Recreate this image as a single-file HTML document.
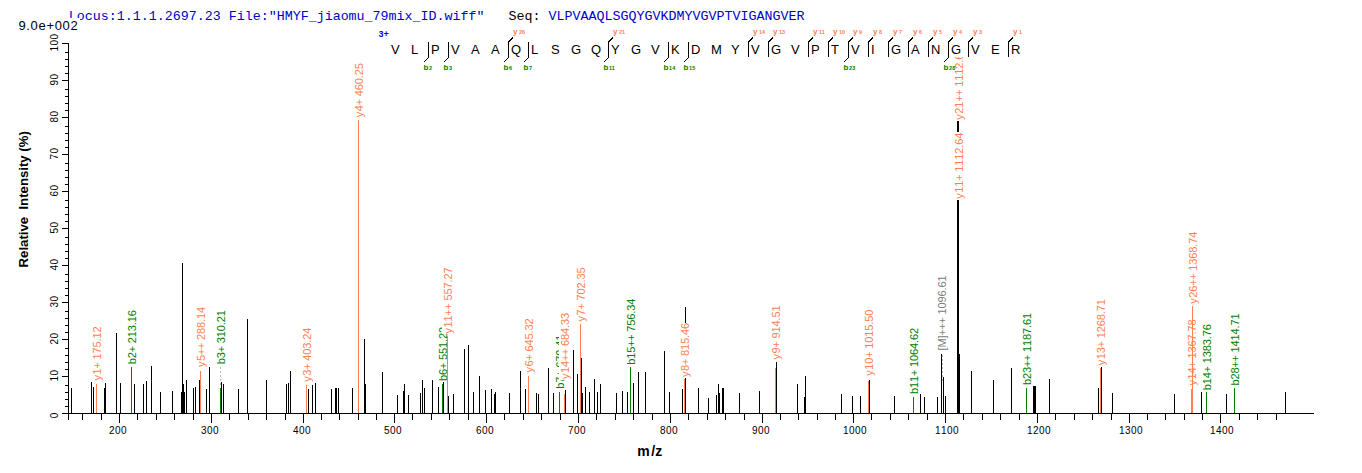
<!DOCTYPE html>
<html><head><meta charset="utf-8"><title>spectrum</title>
<style>
html,body{margin:0;padding:0;background:#fff;}
body{width:1362px;height:473px;overflow:hidden;}
svg{display:block;}
text{font-family:"Liberation Sans",sans-serif;}
svg g text{font-size:11px;}
.ytl{font-size:10px;fill:#000;}
.xtl{font-size:10px;fill:#000;}
.ttl{font-size:13.2px;font-weight:bold;fill:#000;}
.ttl2{font-size:14px;font-weight:bold;fill:#000;}
.seq{font-size:13px;fill:#000;}
.chg{font-size:9px;font-weight:bold;fill:#0000ff;}
.ion{font-size:8px;font-weight:bold;}
.sub{font-size:5.5px;}
.mono{font-family:"Liberation Mono",monospace;font-size:13.33px;}
.maxi{font-size:13px;letter-spacing:0.68px;fill:#000;}
</style></head>
<body><svg width="1362" height="473" viewBox="0 0 1362 473" shape-rendering="crispEdges">
<rect width="1362" height="473" fill="#fff"/>
<line x1="71.5" y1="388" x2="71.5" y2="413" stroke="#000" stroke-width="1"/>
<line x1="91.5" y1="382" x2="91.5" y2="413" stroke="#000" stroke-width="1"/>
<line x1="93.5" y1="387" x2="93.5" y2="413" stroke="#000" stroke-width="1"/>
<line x1="104.5" y1="388" x2="104.5" y2="413" stroke="#000" stroke-width="1"/>
<line x1="105.5" y1="383" x2="105.5" y2="413" stroke="#000" stroke-width="1"/>
<line x1="116.5" y1="333" x2="116.5" y2="413" stroke="#000" stroke-width="1"/>
<line x1="120.5" y1="383" x2="120.5" y2="413" stroke="#000" stroke-width="1"/>
<line x1="134.5" y1="384" x2="134.5" y2="413" stroke="#000" stroke-width="1"/>
<line x1="143.5" y1="384" x2="143.5" y2="413" stroke="#000" stroke-width="1"/>
<line x1="146.5" y1="381" x2="146.5" y2="413" stroke="#000" stroke-width="1"/>
<line x1="151.5" y1="366" x2="151.5" y2="413" stroke="#000" stroke-width="1"/>
<line x1="160.5" y1="392" x2="160.5" y2="413" stroke="#000" stroke-width="1"/>
<line x1="172.5" y1="391" x2="172.5" y2="413" stroke="#000" stroke-width="1"/>
<line x1="181.5" y1="392" x2="181.5" y2="413" stroke="#000" stroke-width="1"/>
<line x1="182.5" y1="263" x2="182.5" y2="413" stroke="#000" stroke-width="1"/>
<line x1="183.5" y1="384" x2="183.5" y2="413" stroke="#000" stroke-width="1"/>
<line x1="184.5" y1="392" x2="184.5" y2="413" stroke="#000" stroke-width="1"/>
<line x1="186.5" y1="380" x2="186.5" y2="413" stroke="#000" stroke-width="1"/>
<line x1="193.5" y1="388" x2="193.5" y2="413" stroke="#000" stroke-width="1"/>
<line x1="195.5" y1="387" x2="195.5" y2="413" stroke="#000" stroke-width="1"/>
<line x1="199.5" y1="380" x2="199.5" y2="413" stroke="#000" stroke-width="1"/>
<line x1="206.5" y1="389" x2="206.5" y2="413" stroke="#000" stroke-width="1"/>
<line x1="209.5" y1="367" x2="209.5" y2="413" stroke="#000" stroke-width="1"/>
<line x1="221.5" y1="382" x2="221.5" y2="413" stroke="#000" stroke-width="1"/>
<line x1="223.5" y1="384" x2="223.5" y2="413" stroke="#000" stroke-width="1"/>
<line x1="238.5" y1="389" x2="238.5" y2="413" stroke="#000" stroke-width="1"/>
<line x1="247.5" y1="319" x2="247.5" y2="413" stroke="#000" stroke-width="1"/>
<line x1="266.5" y1="380" x2="266.5" y2="413" stroke="#000" stroke-width="1"/>
<line x1="286.5" y1="384" x2="286.5" y2="413" stroke="#000" stroke-width="1"/>
<line x1="288.5" y1="383" x2="288.5" y2="413" stroke="#000" stroke-width="1"/>
<line x1="290.5" y1="371" x2="290.5" y2="413" stroke="#000" stroke-width="1"/>
<line x1="308.5" y1="389" x2="308.5" y2="413" stroke="#000" stroke-width="1"/>
<line x1="312.5" y1="385" x2="312.5" y2="413" stroke="#000" stroke-width="1"/>
<line x1="315.5" y1="383" x2="315.5" y2="413" stroke="#000" stroke-width="1"/>
<line x1="331.5" y1="389" x2="331.5" y2="413" stroke="#000" stroke-width="1"/>
<line x1="335.5" y1="388" x2="335.5" y2="413" stroke="#000" stroke-width="1"/>
<line x1="336.5" y1="388" x2="336.5" y2="413" stroke="#000" stroke-width="1"/>
<line x1="338.5" y1="388" x2="338.5" y2="413" stroke="#000" stroke-width="1"/>
<line x1="352.5" y1="388" x2="352.5" y2="413" stroke="#000" stroke-width="1"/>
<line x1="364.5" y1="339" x2="364.5" y2="413" stroke="#000" stroke-width="1"/>
<line x1="365.5" y1="384" x2="365.5" y2="413" stroke="#000" stroke-width="1"/>
<line x1="382.5" y1="372" x2="382.5" y2="413" stroke="#000" stroke-width="1"/>
<line x1="397.5" y1="395" x2="397.5" y2="413" stroke="#000" stroke-width="1"/>
<line x1="403.5" y1="391" x2="403.5" y2="413" stroke="#000" stroke-width="1"/>
<line x1="404.5" y1="384" x2="404.5" y2="413" stroke="#000" stroke-width="1"/>
<line x1="408.5" y1="395" x2="408.5" y2="413" stroke="#000" stroke-width="1"/>
<line x1="420.5" y1="393" x2="420.5" y2="413" stroke="#000" stroke-width="1"/>
<line x1="422.5" y1="380" x2="422.5" y2="413" stroke="#000" stroke-width="1"/>
<line x1="424.5" y1="388" x2="424.5" y2="413" stroke="#000" stroke-width="1"/>
<line x1="432.5" y1="380" x2="432.5" y2="413" stroke="#000" stroke-width="1"/>
<line x1="438.5" y1="387" x2="438.5" y2="413" stroke="#000" stroke-width="1"/>
<line x1="443.5" y1="382" x2="443.5" y2="413" stroke="#000" stroke-width="1"/>
<line x1="448.5" y1="396" x2="448.5" y2="413" stroke="#000" stroke-width="1"/>
<line x1="453.5" y1="394" x2="453.5" y2="413" stroke="#000" stroke-width="1"/>
<line x1="464.5" y1="349" x2="464.5" y2="413" stroke="#000" stroke-width="1"/>
<line x1="468.5" y1="345" x2="468.5" y2="413" stroke="#000" stroke-width="1"/>
<line x1="473.5" y1="392" x2="473.5" y2="413" stroke="#000" stroke-width="1"/>
<line x1="479.5" y1="376" x2="479.5" y2="413" stroke="#000" stroke-width="1"/>
<line x1="485.5" y1="390" x2="485.5" y2="413" stroke="#000" stroke-width="1"/>
<line x1="491.5" y1="389" x2="491.5" y2="413" stroke="#000" stroke-width="1"/>
<line x1="494.5" y1="394" x2="494.5" y2="413" stroke="#000" stroke-width="1"/>
<line x1="495.5" y1="392" x2="495.5" y2="413" stroke="#000" stroke-width="1"/>
<line x1="509.5" y1="393" x2="509.5" y2="413" stroke="#000" stroke-width="1"/>
<line x1="520.5" y1="371" x2="520.5" y2="413" stroke="#000" stroke-width="1"/>
<line x1="525.5" y1="389" x2="525.5" y2="413" stroke="#000" stroke-width="1"/>
<line x1="536.5" y1="393" x2="536.5" y2="413" stroke="#000" stroke-width="1"/>
<line x1="538.5" y1="394" x2="538.5" y2="413" stroke="#000" stroke-width="1"/>
<line x1="548.5" y1="368" x2="548.5" y2="413" stroke="#000" stroke-width="1"/>
<line x1="553.5" y1="393" x2="553.5" y2="413" stroke="#000" stroke-width="1"/>
<line x1="565.5" y1="390" x2="565.5" y2="413" stroke="#000" stroke-width="1"/>
<line x1="573.5" y1="350" x2="573.5" y2="413" stroke="#000" stroke-width="1"/>
<line x1="577.5" y1="374" x2="577.5" y2="413" stroke="#000" stroke-width="1"/>
<line x1="581.5" y1="358" x2="581.5" y2="413" stroke="#000" stroke-width="1"/>
<line x1="582.5" y1="393" x2="582.5" y2="413" stroke="#000" stroke-width="1"/>
<line x1="585.5" y1="387" x2="585.5" y2="413" stroke="#000" stroke-width="1"/>
<line x1="589.5" y1="392" x2="589.5" y2="413" stroke="#000" stroke-width="1"/>
<line x1="594.5" y1="379" x2="594.5" y2="413" stroke="#000" stroke-width="1"/>
<line x1="597.5" y1="392" x2="597.5" y2="413" stroke="#000" stroke-width="1"/>
<line x1="600.5" y1="384" x2="600.5" y2="413" stroke="#000" stroke-width="1"/>
<line x1="616.5" y1="393" x2="616.5" y2="413" stroke="#000" stroke-width="1"/>
<line x1="622.5" y1="391" x2="622.5" y2="413" stroke="#000" stroke-width="1"/>
<line x1="627.5" y1="392" x2="627.5" y2="413" stroke="#000" stroke-width="1"/>
<line x1="633.5" y1="383" x2="633.5" y2="413" stroke="#000" stroke-width="1"/>
<line x1="638.5" y1="372" x2="638.5" y2="413" stroke="#000" stroke-width="1"/>
<line x1="645.5" y1="372" x2="645.5" y2="413" stroke="#000" stroke-width="1"/>
<line x1="664.5" y1="351" x2="664.5" y2="413" stroke="#000" stroke-width="1"/>
<line x1="669.5" y1="392" x2="669.5" y2="413" stroke="#000" stroke-width="1"/>
<line x1="682.5" y1="389" x2="682.5" y2="413" stroke="#000" stroke-width="1"/>
<line x1="685.5" y1="307" x2="685.5" y2="413" stroke="#000" stroke-width="1"/>
<line x1="698.5" y1="388" x2="698.5" y2="413" stroke="#000" stroke-width="1"/>
<line x1="708.5" y1="398" x2="708.5" y2="413" stroke="#000" stroke-width="1"/>
<line x1="716.5" y1="395" x2="716.5" y2="413" stroke="#000" stroke-width="1"/>
<line x1="718.5" y1="384" x2="718.5" y2="413" stroke="#000" stroke-width="1"/>
<line x1="719.5" y1="393" x2="719.5" y2="413" stroke="#000" stroke-width="1"/>
<line x1="722.5" y1="388" x2="722.5" y2="413" stroke="#000" stroke-width="1"/>
<line x1="723.5" y1="388" x2="723.5" y2="413" stroke="#000" stroke-width="1"/>
<line x1="739.5" y1="393" x2="739.5" y2="413" stroke="#000" stroke-width="1"/>
<line x1="759.5" y1="391" x2="759.5" y2="413" stroke="#000" stroke-width="1"/>
<line x1="776.5" y1="362" x2="776.5" y2="413" stroke="#000" stroke-width="1"/>
<line x1="797.5" y1="384" x2="797.5" y2="413" stroke="#000" stroke-width="1"/>
<line x1="804.5" y1="397" x2="804.5" y2="413" stroke="#000" stroke-width="1"/>
<line x1="805.5" y1="376" x2="805.5" y2="413" stroke="#000" stroke-width="1"/>
<line x1="841.5" y1="394" x2="841.5" y2="413" stroke="#000" stroke-width="1"/>
<line x1="852.5" y1="396" x2="852.5" y2="413" stroke="#000" stroke-width="1"/>
<line x1="860.5" y1="396" x2="860.5" y2="413" stroke="#000" stroke-width="1"/>
<line x1="869.5" y1="380" x2="869.5" y2="413" stroke="#000" stroke-width="1"/>
<line x1="894.5" y1="396" x2="894.5" y2="413" stroke="#000" stroke-width="1"/>
<line x1="920.5" y1="394" x2="920.5" y2="413" stroke="#000" stroke-width="1"/>
<line x1="924.5" y1="397" x2="924.5" y2="413" stroke="#000" stroke-width="1"/>
<line x1="937.5" y1="397" x2="937.5" y2="413" stroke="#000" stroke-width="1"/>
<line x1="941.5" y1="354" x2="941.5" y2="413" stroke="#000" stroke-width="1"/>
<line x1="943.5" y1="377" x2="943.5" y2="413" stroke="#000" stroke-width="1"/>
<line x1="945.5" y1="396" x2="945.5" y2="413" stroke="#000" stroke-width="1"/>
<line x1="957.5" y1="60" x2="957.5" y2="413" stroke="#000" stroke-width="1"/>
<line x1="958.5" y1="60" x2="958.5" y2="413" stroke="#000" stroke-width="1"/>
<line x1="959.5" y1="354" x2="959.5" y2="413" stroke="#000" stroke-width="1"/>
<line x1="971.5" y1="371" x2="971.5" y2="413" stroke="#000" stroke-width="1"/>
<line x1="993.5" y1="380" x2="993.5" y2="413" stroke="#000" stroke-width="1"/>
<line x1="1011.5" y1="368" x2="1011.5" y2="413" stroke="#000" stroke-width="1"/>
<line x1="1033.5" y1="386" x2="1033.5" y2="413" stroke="#000" stroke-width="1"/>
<line x1="1034.5" y1="386" x2="1034.5" y2="413" stroke="#000" stroke-width="1"/>
<line x1="1035.5" y1="386" x2="1035.5" y2="413" stroke="#000" stroke-width="1"/>
<line x1="1049.5" y1="379" x2="1049.5" y2="413" stroke="#000" stroke-width="1"/>
<line x1="1098.5" y1="388" x2="1098.5" y2="413" stroke="#000" stroke-width="1"/>
<line x1="1101.5" y1="367" x2="1101.5" y2="413" stroke="#000" stroke-width="1"/>
<line x1="1112.5" y1="393" x2="1112.5" y2="413" stroke="#000" stroke-width="1"/>
<line x1="1174.5" y1="394" x2="1174.5" y2="413" stroke="#000" stroke-width="1"/>
<line x1="1201.5" y1="392" x2="1201.5" y2="413" stroke="#000" stroke-width="1"/>
<line x1="1226.5" y1="394" x2="1226.5" y2="413" stroke="#000" stroke-width="1"/>
<line x1="1285.5" y1="392" x2="1285.5" y2="413" stroke="#000" stroke-width="1"/>
<g transform="translate(100.7,380.5) rotate(-90)"><rect x="-1" y="-10" width="55.5" height="12.3" fill="#fff"/><text x="0 6 12 18 21 27 33 39 42 48" y="0" fill="#ff7f50" xml:space="preserve">y1+ 175.12</text></g>
<g transform="translate(135.7,364.3) rotate(-90)"><rect x="-1" y="-10" width="55.5" height="12.3" fill="#fff"/><text x="0 6 12 18 21 27 33 39 42 48" y="0" fill="#008000" xml:space="preserve">b2+ 213.16</text></g>
<g transform="translate(204.7,367.0) rotate(-90)"><rect x="-1" y="-10" width="61.5" height="12.3" fill="#fff"/><text x="0 6 12 18 24 27 33 39 45 48 54" y="0" fill="#ff7f50" xml:space="preserve">y5++ 288.14</text></g>
<g transform="translate(224.7,364.3) rotate(-90)"><rect x="-1" y="-10" width="55.5" height="12.3" fill="#fff"/><text x="0 6 12 18 21 27 33 39 42 48" y="0" fill="#008000" xml:space="preserve">b3+ 310.21</text></g>
<g transform="translate(310.7,381.7) rotate(-90)"><rect x="-1" y="-10" width="55.5" height="12.3" fill="#fff"/><text x="0 6 12 18 21 27 33 39 42 48" y="0" fill="#ff7f50" xml:space="preserve">y3+ 403.24</text></g>
<g transform="translate(362.7,117.3) rotate(-90)"><rect x="-1" y="-10" width="55.5" height="12.3" fill="#fff"/><text x="0 6 12 18 21 27 33 39 42 48" y="0" fill="#ff7f50" xml:space="preserve">y4+ 460.25</text></g>
<g transform="translate(446.7,381.1) rotate(-90)"><rect x="-1" y="-10" width="55.5" height="12.3" fill="#fff"/><text x="0 6 12 18 21 27 33 39 42 48" y="0" fill="#008000" xml:space="preserve">b6+ 551.22</text></g>
<g transform="translate(451.7,333.4) rotate(-90)"><rect x="-1" y="-10" width="67.5" height="12.3" fill="#fff"/><text x="0 6 12 18 24 30 33 39 45 51 54 60" y="0" fill="#ff7f50" xml:space="preserve">y11++ 557.27</text></g>
<g transform="translate(532.7,372.5) rotate(-90)"><rect x="-1" y="-10" width="55.5" height="12.3" fill="#fff"/><text x="0 6 12 18 21 27 33 39 42 48" y="0" fill="#ff7f50" xml:space="preserve">y6+ 645.32</text></g>
<g transform="translate(563.7,388.8) rotate(-90)"><rect x="-1" y="-10" width="55.5" height="12.3" fill="#fff"/><text x="0 6 12 18 21 27 33 39 42 48" y="0" fill="#008000" xml:space="preserve">b7+ 679.41</text></g>
<g transform="translate(568.7,378.9) rotate(-90)"><rect x="-1" y="-10" width="67.5" height="12.3" fill="#fff"/><text x="0 6 12 18 24 30 33 39 45 51 54 60" y="0" fill="#ff7f50" xml:space="preserve">y14++ 684.33</text></g>
<g transform="translate(584.7,321.6) rotate(-90)"><rect x="-1" y="-10" width="55.5" height="12.3" fill="#fff"/><text x="0 6 12 18 21 27 33 39 42 48" y="0" fill="#ff7f50" xml:space="preserve">y7+ 702.35</text></g>
<g transform="translate(634.7,364.8) rotate(-90)"><rect x="-1" y="-10" width="67.5" height="12.3" fill="#fff"/><text x="0 6 12 18 24 30 33 39 45 51 54 60" y="0" fill="#008000" xml:space="preserve">b15++ 756.34</text></g>
<g transform="translate(688.7,377.1) rotate(-90)"><rect x="-1" y="-10" width="55.5" height="12.3" fill="#fff"/><text x="0 6 12 18 21 27 33 39 42 48" y="0" fill="#ff7f50" xml:space="preserve">y8+ 815.46</text></g>
<g transform="translate(779.7,359.5) rotate(-90)"><rect x="-1" y="-10" width="55.5" height="12.3" fill="#fff"/><text x="0 6 12 18 21 27 33 39 42 48" y="0" fill="#ff7f50" xml:space="preserve">y9+ 914.51</text></g>
<g transform="translate(872.7,375.7) rotate(-90)"><rect x="-1" y="-10" width="67.5" height="12.3" fill="#fff"/><text x="0 6 12 18 24 27 33 39 45 51 54 60" y="0" fill="#ff7f50" xml:space="preserve">y10+ 1015.50</text></g>
<g transform="translate(917.7,394.1) rotate(-90)"><rect x="-1" y="-10" width="67.5" height="12.3" fill="#fff"/><text x="0 6 12 18 24 27 33 39 45 51 54 60" y="0" fill="#008000" xml:space="preserve">b11+ 1064.62</text></g>
<g transform="translate(945.7,350.5) rotate(-90)"><rect x="-1" y="-10" width="76.5" height="12.3" fill="#fff"/><text x="0 3 12 15 21 27 33 36 42 48 54 60 63 69" y="0" fill="#808080" xml:space="preserve">[M]+++ 1096.61</text></g>
<g transform="translate(962.7,198.7) rotate(-90)"><rect x="-1" y="-10" width="67.5" height="12.3" fill="#fff"/><text x="0 6 12 18 24 27 33 39 45 51 54 60" y="0" fill="#ff7f50" xml:space="preserve">y11+ 1112.64</text></g>
<g transform="translate(962.7,119.8) rotate(-90)"><rect x="-1" y="-10" width="73.5" height="12.3" fill="#fff"/><text x="0 6 12 18 24 30 33 39 45 51 57 60 66" y="0" fill="#ff7f50" xml:space="preserve">y21++ 1112.64</text></g>
<g transform="translate(1030.7,384.9) rotate(-90)"><rect x="-1" y="-10" width="73.5" height="12.3" fill="#fff"/><text x="0 6 12 18 24 30 33 39 45 51 57 60 66" y="0" fill="#008000" xml:space="preserve">b23++ 1187.61</text></g>
<g transform="translate(1104.7,365.3) rotate(-90)"><rect x="-1" y="-10" width="67.5" height="12.3" fill="#fff"/><text x="0 6 12 18 24 27 33 39 45 51 54 60" y="0" fill="#ff7f50" xml:space="preserve">y13+ 1268.71</text></g>
<g transform="translate(1195.7,385.6) rotate(-90)"><rect x="-1" y="-10" width="67.5" height="12.3" fill="#fff"/><text x="0 6 12 18 24 27 33 39 45 51 54 60" y="0" fill="#ff7f50" xml:space="preserve">y14+ 1367.78</text></g>
<g transform="translate(1196.7,303.8) rotate(-90)"><rect x="-1" y="-10" width="73.5" height="12.3" fill="#fff"/><text x="0 6 12 18 24 30 33 39 45 51 57 60 66" y="0" fill="#ff7f50" xml:space="preserve">y26++ 1368.74</text></g>
<g transform="translate(1210.7,390.3) rotate(-90)"><rect x="-1" y="-10" width="67.5" height="12.3" fill="#fff"/><text x="0 6 12 18 24 27 33 39 45 51 54 60" y="0" fill="#008000" xml:space="preserve">b14+ 1383.76</text></g>
<g transform="translate(1238.7,385.6) rotate(-90)"><rect x="-1" y="-10" width="73.5" height="12.3" fill="#fff"/><text x="0 6 12 18 24 30 33 39 45 51 57 60 66" y="0" fill="#008000" xml:space="preserve">b28++ 1414.71</text></g>
<line x1="96.5" y1="384" x2="96.5" y2="413" stroke="#ff7f50" stroke-width="1"/>
<line x1="200.5" y1="371" x2="200.5" y2="413" stroke="#ff7f50" stroke-width="1"/>
<line x1="306.5" y1="385" x2="306.5" y2="413" stroke="#ff7f50" stroke-width="1"/>
<line x1="358.5" y1="120" x2="358.5" y2="413" stroke="#ff7f50" stroke-width="1"/>
<line x1="447.5" y1="336" x2="447.5" y2="413" stroke="#ff7f50" stroke-width="1"/>
<line x1="528.5" y1="376" x2="528.5" y2="413" stroke="#ff7f50" stroke-width="1"/>
<line x1="564.5" y1="394" x2="564.5" y2="413" stroke="#ff7f50" stroke-width="1"/>
<line x1="580.5" y1="324" x2="580.5" y2="413" stroke="#ff7f50" stroke-width="1"/>
<line x1="684.5" y1="379" x2="684.5" y2="413" stroke="#ff7f50" stroke-width="1"/>
<line x1="775.5" y1="368" x2="775.5" y2="413" stroke="#ff7f50" stroke-width="1"/>
<line x1="868.5" y1="381" x2="868.5" y2="413" stroke="#ff7f50" stroke-width="1"/>
<line x1="1100.5" y1="368" x2="1100.5" y2="413" stroke="#ff7f50" stroke-width="1"/>
<line x1="1191.5" y1="389" x2="1191.5" y2="413" stroke="#ff7f50" stroke-width="1"/>
<line x1="1192.5" y1="306" x2="1192.5" y2="413" stroke="#ff7f50" stroke-width="1"/>
<line x1="131.5" y1="367" x2="131.5" y2="413" stroke="#008000" stroke-width="1"/>
<line x1="220.5" y1="388" x2="220.5" y2="413" stroke="#008000" stroke-width="1"/>
<line x1="442.5" y1="384" x2="442.5" y2="413" stroke="#008000" stroke-width="1"/>
<line x1="559.5" y1="392" x2="559.5" y2="413" stroke="#008000" stroke-width="1"/>
<line x1="630.5" y1="367" x2="630.5" y2="413" stroke="#008000" stroke-width="1"/>
<line x1="913.5" y1="397" x2="913.5" y2="413" stroke="#008000" stroke-width="1"/>
<line x1="1026.5" y1="388" x2="1026.5" y2="413" stroke="#008000" stroke-width="1"/>
<line x1="1206.5" y1="392" x2="1206.5" y2="413" stroke="#008000" stroke-width="1"/>
<line x1="1234.5" y1="388" x2="1234.5" y2="413" stroke="#008000" stroke-width="1"/>
<line x1="942.5" y1="355" x2="942.5" y2="381" stroke="#b8b8b8" stroke-width="1" stroke-dasharray="2,2"/>
<line x1="220.5" y1="367" x2="220.5" y2="385" stroke="#b8b8b8" stroke-width="1" stroke-dasharray="2,2"/>
<line x1="68.5" y1="43" x2="68.5" y2="420" stroke="#000"/>
<line x1="62" y1="413.5" x2="1314" y2="413.5" stroke="#000"/>
<line x1="62" y1="413.5" x2="68" y2="413.5" stroke="#000"/>
<line x1="65" y1="406.5" x2="68" y2="406.5" stroke="#000"/>
<line x1="65" y1="399.5" x2="68" y2="399.5" stroke="#000"/>
<line x1="65" y1="392.5" x2="68" y2="392.5" stroke="#000"/>
<line x1="65" y1="385.5" x2="68" y2="385.5" stroke="#000"/>
<line x1="62" y1="376.5" x2="68" y2="376.5" stroke="#000"/>
<line x1="65" y1="369.5" x2="68" y2="369.5" stroke="#000"/>
<line x1="65" y1="362.5" x2="68" y2="362.5" stroke="#000"/>
<line x1="65" y1="355.5" x2="68" y2="355.5" stroke="#000"/>
<line x1="65" y1="348.5" x2="68" y2="348.5" stroke="#000"/>
<line x1="62" y1="339.5" x2="68" y2="339.5" stroke="#000"/>
<line x1="65" y1="332.5" x2="68" y2="332.5" stroke="#000"/>
<line x1="65" y1="325.5" x2="68" y2="325.5" stroke="#000"/>
<line x1="65" y1="318.5" x2="68" y2="318.5" stroke="#000"/>
<line x1="65" y1="311.5" x2="68" y2="311.5" stroke="#000"/>
<line x1="62" y1="302.5" x2="68" y2="302.5" stroke="#000"/>
<line x1="65" y1="295.5" x2="68" y2="295.5" stroke="#000"/>
<line x1="65" y1="288.5" x2="68" y2="288.5" stroke="#000"/>
<line x1="65" y1="281.5" x2="68" y2="281.5" stroke="#000"/>
<line x1="65" y1="274.5" x2="68" y2="274.5" stroke="#000"/>
<line x1="62" y1="265.5" x2="68" y2="265.5" stroke="#000"/>
<line x1="65" y1="258.5" x2="68" y2="258.5" stroke="#000"/>
<line x1="65" y1="251.5" x2="68" y2="251.5" stroke="#000"/>
<line x1="65" y1="244.5" x2="68" y2="244.5" stroke="#000"/>
<line x1="65" y1="237.5" x2="68" y2="237.5" stroke="#000"/>
<line x1="62" y1="228.5" x2="68" y2="228.5" stroke="#000"/>
<line x1="65" y1="221.5" x2="68" y2="221.5" stroke="#000"/>
<line x1="65" y1="214.5" x2="68" y2="214.5" stroke="#000"/>
<line x1="65" y1="207.5" x2="68" y2="207.5" stroke="#000"/>
<line x1="65" y1="200.5" x2="68" y2="200.5" stroke="#000"/>
<line x1="62" y1="191.5" x2="68" y2="191.5" stroke="#000"/>
<line x1="65" y1="184.5" x2="68" y2="184.5" stroke="#000"/>
<line x1="65" y1="177.5" x2="68" y2="177.5" stroke="#000"/>
<line x1="65" y1="170.5" x2="68" y2="170.5" stroke="#000"/>
<line x1="65" y1="163.5" x2="68" y2="163.5" stroke="#000"/>
<line x1="62" y1="154.5" x2="68" y2="154.5" stroke="#000"/>
<line x1="65" y1="147.5" x2="68" y2="147.5" stroke="#000"/>
<line x1="65" y1="140.5" x2="68" y2="140.5" stroke="#000"/>
<line x1="65" y1="133.5" x2="68" y2="133.5" stroke="#000"/>
<line x1="65" y1="126.5" x2="68" y2="126.5" stroke="#000"/>
<line x1="62" y1="117.5" x2="68" y2="117.5" stroke="#000"/>
<line x1="65" y1="110.5" x2="68" y2="110.5" stroke="#000"/>
<line x1="65" y1="103.5" x2="68" y2="103.5" stroke="#000"/>
<line x1="65" y1="96.5" x2="68" y2="96.5" stroke="#000"/>
<line x1="65" y1="89.5" x2="68" y2="89.5" stroke="#000"/>
<line x1="62" y1="80.5" x2="68" y2="80.5" stroke="#000"/>
<line x1="65" y1="73.5" x2="68" y2="73.5" stroke="#000"/>
<line x1="65" y1="66.5" x2="68" y2="66.5" stroke="#000"/>
<line x1="65" y1="59.5" x2="68" y2="59.5" stroke="#000"/>
<line x1="65" y1="52.5" x2="68" y2="52.5" stroke="#000"/>
<line x1="62" y1="43.5" x2="68" y2="43.5" stroke="#000"/>
<text class="ytl" transform="translate(58.3,415.6) rotate(-90)" x="-2.7">0</text>
<text class="ytl" transform="translate(58.3,375.7) rotate(-90)" x="-5.7 0.3">10</text>
<text class="ytl" transform="translate(58.3,338.7) rotate(-90)" x="-5.7 0.3">20</text>
<text class="ytl" transform="translate(58.3,301.7) rotate(-90)" x="-5.7 0.3">30</text>
<text class="ytl" transform="translate(58.3,264.7) rotate(-90)" x="-5.7 0.3">40</text>
<text class="ytl" transform="translate(58.3,227.7) rotate(-90)" x="-5.7 0.3">50</text>
<text class="ytl" transform="translate(58.3,190.7) rotate(-90)" x="-5.7 0.3">60</text>
<text class="ytl" transform="translate(58.3,153.7) rotate(-90)" x="-5.7 0.3">70</text>
<text class="ytl" transform="translate(58.3,116.7) rotate(-90)" x="-5.7 0.3">80</text>
<text class="ytl" transform="translate(58.3,79.7) rotate(-90)" x="-5.7 0.3">90</text>
<text class="ytl" transform="translate(58.3,42.7) rotate(-90)" x="-8.7 -2.7 3.3">100</text>
<line x1="119.5" y1="414" x2="119.5" y2="423" stroke="#000"/>
<line x1="211.5" y1="414" x2="211.5" y2="423" stroke="#000"/>
<line x1="303.5" y1="414" x2="303.5" y2="423" stroke="#000"/>
<line x1="394.5" y1="414" x2="394.5" y2="423" stroke="#000"/>
<line x1="486.5" y1="414" x2="486.5" y2="423" stroke="#000"/>
<line x1="578.5" y1="414" x2="578.5" y2="423" stroke="#000"/>
<line x1="670.5" y1="414" x2="670.5" y2="423" stroke="#000"/>
<line x1="762.5" y1="414" x2="762.5" y2="423" stroke="#000"/>
<line x1="853.5" y1="414" x2="853.5" y2="423" stroke="#000"/>
<line x1="945.5" y1="414" x2="945.5" y2="423" stroke="#000"/>
<line x1="1037.5" y1="414" x2="1037.5" y2="423" stroke="#000"/>
<line x1="1129.5" y1="414" x2="1129.5" y2="423" stroke="#000"/>
<line x1="1220.5" y1="414" x2="1220.5" y2="423" stroke="#000"/>
<line x1="82.5" y1="414" x2="82.5" y2="420" stroke="#000"/>
<line x1="101.5" y1="414" x2="101.5" y2="420" stroke="#000"/>
<line x1="137.5" y1="414" x2="137.5" y2="420" stroke="#000"/>
<line x1="156.5" y1="414" x2="156.5" y2="420" stroke="#000"/>
<line x1="174.5" y1="414" x2="174.5" y2="420" stroke="#000"/>
<line x1="193.5" y1="414" x2="193.5" y2="420" stroke="#000"/>
<line x1="229.5" y1="414" x2="229.5" y2="420" stroke="#000"/>
<line x1="248.5" y1="414" x2="248.5" y2="420" stroke="#000"/>
<line x1="266.5" y1="414" x2="266.5" y2="420" stroke="#000"/>
<line x1="285.5" y1="414" x2="285.5" y2="420" stroke="#000"/>
<line x1="321.5" y1="414" x2="321.5" y2="420" stroke="#000"/>
<line x1="339.5" y1="414" x2="339.5" y2="420" stroke="#000"/>
<line x1="358.5" y1="414" x2="358.5" y2="420" stroke="#000"/>
<line x1="376.5" y1="414" x2="376.5" y2="420" stroke="#000"/>
<line x1="412.5" y1="414" x2="412.5" y2="420" stroke="#000"/>
<line x1="431.5" y1="414" x2="431.5" y2="420" stroke="#000"/>
<line x1="449.5" y1="414" x2="449.5" y2="420" stroke="#000"/>
<line x1="468.5" y1="414" x2="468.5" y2="420" stroke="#000"/>
<line x1="504.5" y1="414" x2="504.5" y2="420" stroke="#000"/>
<line x1="523.5" y1="414" x2="523.5" y2="420" stroke="#000"/>
<line x1="541.5" y1="414" x2="541.5" y2="420" stroke="#000"/>
<line x1="560.5" y1="414" x2="560.5" y2="420" stroke="#000"/>
<line x1="596.5" y1="414" x2="596.5" y2="420" stroke="#000"/>
<line x1="615.5" y1="414" x2="615.5" y2="420" stroke="#000"/>
<line x1="633.5" y1="414" x2="633.5" y2="420" stroke="#000"/>
<line x1="652.5" y1="414" x2="652.5" y2="420" stroke="#000"/>
<line x1="688.5" y1="414" x2="688.5" y2="420" stroke="#000"/>
<line x1="707.5" y1="414" x2="707.5" y2="420" stroke="#000"/>
<line x1="725.5" y1="414" x2="725.5" y2="420" stroke="#000"/>
<line x1="744.5" y1="414" x2="744.5" y2="420" stroke="#000"/>
<line x1="780.5" y1="414" x2="780.5" y2="420" stroke="#000"/>
<line x1="798.5" y1="414" x2="798.5" y2="420" stroke="#000"/>
<line x1="817.5" y1="414" x2="817.5" y2="420" stroke="#000"/>
<line x1="835.5" y1="414" x2="835.5" y2="420" stroke="#000"/>
<line x1="871.5" y1="414" x2="871.5" y2="420" stroke="#000"/>
<line x1="890.5" y1="414" x2="890.5" y2="420" stroke="#000"/>
<line x1="908.5" y1="414" x2="908.5" y2="420" stroke="#000"/>
<line x1="927.5" y1="414" x2="927.5" y2="420" stroke="#000"/>
<line x1="963.5" y1="414" x2="963.5" y2="420" stroke="#000"/>
<line x1="982.5" y1="414" x2="982.5" y2="420" stroke="#000"/>
<line x1="1000.5" y1="414" x2="1000.5" y2="420" stroke="#000"/>
<line x1="1019.5" y1="414" x2="1019.5" y2="420" stroke="#000"/>
<line x1="1055.5" y1="414" x2="1055.5" y2="420" stroke="#000"/>
<line x1="1074.5" y1="414" x2="1074.5" y2="420" stroke="#000"/>
<line x1="1092.5" y1="414" x2="1092.5" y2="420" stroke="#000"/>
<line x1="1111.5" y1="414" x2="1111.5" y2="420" stroke="#000"/>
<line x1="1147.5" y1="414" x2="1147.5" y2="420" stroke="#000"/>
<line x1="1165.5" y1="414" x2="1165.5" y2="420" stroke="#000"/>
<line x1="1184.5" y1="414" x2="1184.5" y2="420" stroke="#000"/>
<line x1="1202.5" y1="414" x2="1202.5" y2="420" stroke="#000"/>
<line x1="1239.5" y1="414" x2="1239.5" y2="420" stroke="#000"/>
<line x1="1257.5" y1="414" x2="1257.5" y2="420" stroke="#000"/>
<line x1="1276.5" y1="414" x2="1276.5" y2="420" stroke="#000"/>
<text class="xtl" x="109 115 121" y="434">200</text>
<text class="xtl" x="201 207 213" y="434">300</text>
<text class="xtl" x="293 299 305" y="434">400</text>
<text class="xtl" x="384 390 396" y="434">500</text>
<text class="xtl" x="476 482 488" y="434">600</text>
<text class="xtl" x="568 574 580" y="434">700</text>
<text class="xtl" x="660 666 672" y="434">800</text>
<text class="xtl" x="752 758 764" y="434">900</text>
<text class="xtl" x="843 849 855 861" y="434">1000</text>
<text class="xtl" x="935 941 947 953" y="434">1100</text>
<text class="xtl" x="1027 1033 1039 1045" y="434">1200</text>
<text class="xtl" x="1119 1125 1131 1137" y="434">1300</text>
<text class="xtl" x="1210 1216 1222 1228" y="434">1400</text>
<text class="ttl" transform="translate(28.2,199.3) rotate(-90)" text-anchor="middle">Relative&#160;&#160;Intensity (%)</text>
<text class="ttl2" x="637.3" y="456">m</text><text class="ttl2" x="651.2" y="456">/</text><text class="ttl2" x="655.2" y="456">z</text>
<rect x="370" y="24" width="660" height="33" fill="#fff"/>
<text class="seq" x="391" y="54">V</text>
<text class="seq" x="411" y="54">L</text>
<text class="seq" x="431" y="54">P</text>
<text class="seq" x="451" y="54">V</text>
<text class="seq" x="471" y="54">A</text>
<text class="seq" x="491" y="54">A</text>
<text class="seq" x="511" y="54">Q</text>
<text class="seq" x="531" y="54">L</text>
<text class="seq" x="551" y="54">S</text>
<text class="seq" x="571" y="54">G</text>
<text class="seq" x="591" y="54">Q</text>
<text class="seq" x="611" y="54">Y</text>
<text class="seq" x="631" y="54">G</text>
<text class="seq" x="651" y="54">V</text>
<text class="seq" x="671" y="54">K</text>
<text class="seq" x="691" y="54">D</text>
<text class="seq" x="711" y="54">M</text>
<text class="seq" x="731" y="54">Y</text>
<text class="seq" x="751" y="54">V</text>
<text class="seq" x="771" y="54">G</text>
<text class="seq" x="791" y="54">V</text>
<text class="seq" x="811" y="54">P</text>
<text class="seq" x="831" y="54">T</text>
<text class="seq" x="851" y="54">V</text>
<text class="seq" x="871" y="54">I</text>
<text class="seq" x="891" y="54">G</text>
<text class="seq" x="911" y="54">A</text>
<text class="seq" x="931" y="54">N</text>
<text class="seq" x="951" y="54">G</text>
<text class="seq" x="971" y="54">V</text>
<text class="seq" x="991" y="54">E</text>
<text class="seq" x="1011" y="54">R</text>
<text class="chg" x="378.5" y="36.6">3+</text>
<line x1="428.7" y1="42" x2="428.7" y2="57.3" stroke="#000"/>
<line x1="428.7" y1="57.3" x2="424.3" y2="61.6" stroke="#000"/>
<text class="ion" x="423.6" y="69.6" fill="#008000">b<tspan class="sub" dx="0.6">2</tspan></text>
<line x1="448.7" y1="42" x2="448.7" y2="57.3" stroke="#000"/>
<line x1="448.7" y1="57.3" x2="444.3" y2="61.6" stroke="#000"/>
<text class="ion" x="443.6" y="69.6" fill="#008000">b<tspan class="sub" dx="0.6">3</tspan></text>
<line x1="508.7" y1="42" x2="508.7" y2="57.3" stroke="#000"/>
<line x1="508.7" y1="57.3" x2="504.3" y2="61.6" stroke="#000"/>
<text class="ion" x="503.6" y="69.6" fill="#008000">b<tspan class="sub" dx="0.6">6</tspan></text>
<line x1="508.7" y1="42" x2="512.9" y2="37.7" stroke="#000"/>
<text class="ion" x="513.0" y="33.8" fill="#ff7f50">y<tspan class="sub" dx="1.6">26</tspan></text>
<line x1="528.7" y1="42" x2="528.7" y2="57.3" stroke="#000"/>
<line x1="528.7" y1="57.3" x2="524.3" y2="61.6" stroke="#000"/>
<text class="ion" x="523.6" y="69.6" fill="#008000">b<tspan class="sub" dx="0.6">7</tspan></text>
<line x1="608.7" y1="42" x2="608.7" y2="57.3" stroke="#000"/>
<line x1="608.7" y1="57.3" x2="604.3" y2="61.6" stroke="#000"/>
<text class="ion" x="603.6" y="69.6" fill="#008000">b<tspan class="sub" dx="0.6">11</tspan></text>
<line x1="608.7" y1="42" x2="612.9" y2="37.7" stroke="#000"/>
<text class="ion" x="613.0" y="33.8" fill="#ff7f50">y<tspan class="sub" dx="1.6">21</tspan></text>
<line x1="668.7" y1="42" x2="668.7" y2="57.3" stroke="#000"/>
<line x1="668.7" y1="57.3" x2="664.3" y2="61.6" stroke="#000"/>
<text class="ion" x="663.6" y="69.6" fill="#008000">b<tspan class="sub" dx="0.6">14</tspan></text>
<line x1="688.7" y1="42" x2="688.7" y2="57.3" stroke="#000"/>
<line x1="688.7" y1="57.3" x2="684.3" y2="61.6" stroke="#000"/>
<text class="ion" x="683.6" y="69.6" fill="#008000">b<tspan class="sub" dx="0.6">15</tspan></text>
<line x1="748.7" y1="42" x2="748.7" y2="57.3" stroke="#000"/>
<line x1="748.7" y1="42" x2="752.9" y2="37.7" stroke="#000"/>
<text class="ion" x="753.0" y="33.8" fill="#ff7f50">y<tspan class="sub" dx="1.6">14</tspan></text>
<line x1="768.7" y1="42" x2="768.7" y2="57.3" stroke="#000"/>
<line x1="768.7" y1="42" x2="772.9" y2="37.7" stroke="#000"/>
<text class="ion" x="773.0" y="33.8" fill="#ff7f50">y<tspan class="sub" dx="1.6">13</tspan></text>
<line x1="808.7" y1="42" x2="808.7" y2="57.3" stroke="#000"/>
<line x1="808.7" y1="42" x2="812.9" y2="37.7" stroke="#000"/>
<text class="ion" x="813.0" y="33.8" fill="#ff7f50">y<tspan class="sub" dx="1.6">11</tspan></text>
<line x1="828.7" y1="42" x2="828.7" y2="57.3" stroke="#000"/>
<line x1="828.7" y1="42" x2="832.9" y2="37.7" stroke="#000"/>
<text class="ion" x="833.0" y="33.8" fill="#ff7f50">y<tspan class="sub" dx="1.6">10</tspan></text>
<line x1="848.7" y1="42" x2="848.7" y2="57.3" stroke="#000"/>
<line x1="848.7" y1="57.3" x2="844.3" y2="61.6" stroke="#000"/>
<text class="ion" x="843.6" y="69.6" fill="#008000">b<tspan class="sub" dx="0.6">23</tspan></text>
<line x1="848.7" y1="42" x2="852.9" y2="37.7" stroke="#000"/>
<text class="ion" x="853.0" y="33.8" fill="#ff7f50">y<tspan class="sub" dx="1.6">9</tspan></text>
<line x1="868.7" y1="42" x2="868.7" y2="57.3" stroke="#000"/>
<line x1="868.7" y1="42" x2="872.9" y2="37.7" stroke="#000"/>
<text class="ion" x="873.0" y="33.8" fill="#ff7f50">y<tspan class="sub" dx="1.6">8</tspan></text>
<line x1="888.7" y1="42" x2="888.7" y2="57.3" stroke="#000"/>
<line x1="888.7" y1="42" x2="892.9" y2="37.7" stroke="#000"/>
<text class="ion" x="893.0" y="33.8" fill="#ff7f50">y<tspan class="sub" dx="1.6">7</tspan></text>
<line x1="908.7" y1="42" x2="908.7" y2="57.3" stroke="#000"/>
<line x1="908.7" y1="42" x2="912.9" y2="37.7" stroke="#000"/>
<text class="ion" x="913.0" y="33.8" fill="#ff7f50">y<tspan class="sub" dx="1.6">6</tspan></text>
<line x1="928.7" y1="42" x2="928.7" y2="57.3" stroke="#000"/>
<line x1="928.7" y1="42" x2="932.9" y2="37.7" stroke="#000"/>
<text class="ion" x="933.0" y="33.8" fill="#ff7f50">y<tspan class="sub" dx="1.6">5</tspan></text>
<line x1="948.7" y1="42" x2="948.7" y2="57.3" stroke="#000"/>
<line x1="948.7" y1="57.3" x2="944.3" y2="61.6" stroke="#000"/>
<text class="ion" x="943.6" y="69.6" fill="#008000">b<tspan class="sub" dx="0.6">28</tspan></text>
<line x1="948.7" y1="42" x2="952.9" y2="37.7" stroke="#000"/>
<text class="ion" x="953.0" y="33.8" fill="#ff7f50">y<tspan class="sub" dx="1.6">4</tspan></text>
<line x1="968.7" y1="42" x2="968.7" y2="57.3" stroke="#000"/>
<line x1="968.7" y1="42" x2="972.9" y2="37.7" stroke="#000"/>
<text class="ion" x="973.0" y="33.8" fill="#ff7f50">y<tspan class="sub" dx="1.6">3</tspan></text>
<line x1="1008.7" y1="42" x2="1008.7" y2="57.3" stroke="#000"/>
<line x1="1008.7" y1="42" x2="1012.9" y2="37.7" stroke="#000"/>
<text class="ion" x="1013.0" y="33.8" fill="#ff7f50">y<tspan class="sub" dx="1.6">1</tspan></text>
<text class="mono" x="68.7" y="19.8" fill="#0000cc" xml:space="preserve">Locus:1.1.1.2697.23 File:"HMYF_jiaomu_79mix_ID.wiff"   <tspan fill="#000">Seq:</tspan> VLPVAAQLSGQYGVKDMYVGVPTVIGANGVER</text>
<rect x="16" y="17.6" width="63.5" height="14" fill="#fff"/>
<text class="maxi" x="18.4" y="30">9.0e+002</text>
</svg></body></html>
